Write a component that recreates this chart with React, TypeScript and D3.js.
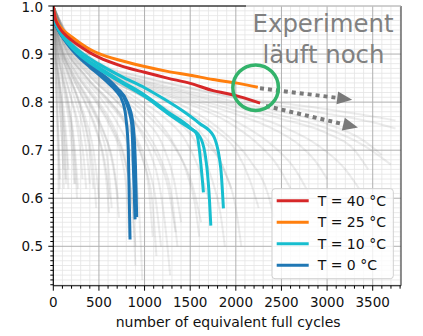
import React from "react";
import * as d3 from "d3";

type P = [number, number];

const xTicks = [0, 500, 1000, 1500, 2000, 2500, 3000, 3500];
const yTicks = [0.5, 0.6, 0.7, 0.8, 0.9, 1.0];
const xDomain: P = [0, 3810];
const yDomain: P = [0.418, 1.0];

const red40: P[] = [[0,1],[20,0.975],[60,0.957],[120,0.942],[200,0.929],[300,0.915],[400,0.903],[500,0.893],[750,0.875],[1000,0.862],[1250,0.85],[1500,0.839],[1750,0.824],[1900,0.818],[2050,0.811],[2266,0.798]];
const orange25: P[] = [[0,1],[20,0.978],[60,0.961],[120,0.948],[200,0.936],[300,0.922],[400,0.91],[500,0.901],[750,0.886],[1000,0.874],[1250,0.864],[1500,0.856],[1750,0.847],[2000,0.84],[2241,0.831]];
const cyan10a: P[] = [[0,1],[20,0.97],[60,0.951],[120,0.934],[200,0.916],[300,0.898],[500,0.872],[750,0.843],[1000,0.815],[1250,0.78],[1500,0.747],[1572,0.733],[1645,0.612]];
const cyan10b: P[] = [[0,1],[20,0.97],[60,0.95],[120,0.932],[200,0.914],[300,0.896],[500,0.869],[750,0.84],[1000,0.812],[1250,0.777],[1500,0.745],[1580,0.735],[1650,0.705],[1711,0.597],[1726,0.543]];
const cyan10c: P[] = [[0,1],[20,0.972],[60,0.953],[120,0.937],[200,0.92],[300,0.904],[500,0.879],[750,0.853],[1000,0.83],[1200,0.808],[1400,0.784],[1600,0.756],[1754,0.73],[1835,0.662],[1864,0.579]];
const blue0a: P[] = [[0,1],[20,0.968],[60,0.948],[120,0.93],[200,0.91],[300,0.89],[400,0.873],[500,0.857],[600,0.84],[680,0.825],[765,0.798],[800,0.76],[822,0.7],[841,0.514]];
const blue0b: P[] = [[0,1],[20,0.968],[60,0.949],[120,0.932],[200,0.912],[300,0.893],[400,0.877],[500,0.861],[600,0.845],[700,0.826],[790,0.803],[860,0.753],[877,0.666],[896,0.556]];
const blue0c: P[] = [[0,1],[20,0.969],[60,0.95],[120,0.933],[200,0.914],[300,0.895],[400,0.879],[500,0.863],[600,0.848],[700,0.829],[810,0.8],[870,0.76],[900,0.67],[914,0.561]];

const greyRuns: P[][] = [
  [[0,1],[15,0.9],[40,0.8],[60,0.71],[72,0.64]],
  [[0,1],[22,0.9],[55,0.82],[85,0.75],[105,0.68],[115,0.62]],
  [[0,1],[30,0.91],[75,0.84],[115,0.78],[145,0.72],[165,0.66]],
  [[0,1],[35,0.92],[90,0.86],[150,0.8],[200,0.74],[225,0.68],[240,0.63]],
  [[0,1],[40,0.925],[110,0.865],[190,0.81],[260,0.75],[300,0.69],[320,0.64]],
  [[0,1],[45,0.93],[130,0.87],[230,0.81],[320,0.75],[370,0.69],[400,0.63]],
  [[0,1],[50,0.932],[150,0.87],[270,0.81],[370,0.755],[440,0.7],[480,0.64],[500,0.6]],
  [[0,1],[55,0.935],[180,0.865],[330,0.805],[450,0.75],[540,0.69],[590,0.62],[610,0.57]],
  [[0,1],[60,0.935],[200,0.865],[380,0.805],[520,0.75],[630,0.69],[690,0.62],[720,0.56]],
  [[0,1],[70,0.936],[250,0.86],[450,0.805],[620,0.75],[740,0.69],[800,0.62],[830,0.52]],
  [[0,1],[80,0.938],[300,0.86],[550,0.8],[720,0.75],[850,0.69],[930,0.6],[960,0.5],[975,0.43]],
  [[0,1],[80,0.94],[350,0.855],[600,0.805],[800,0.755],[950,0.7],[1040,0.63],[1090,0.52]],
  [[0,1],[90,0.94],[400,0.855],[700,0.8],[900,0.755],[1050,0.7],[1160,0.63],[1240,0.52],[1280,0.44]],
  [[0,1],[100,0.942],[450,0.855],[750,0.81],[1000,0.765],[1200,0.71],[1320,0.64],[1400,0.55]],
  [[0,1],[100,0.944],[500,0.855],[800,0.815],[1100,0.77],[1300,0.72],[1450,0.66],[1550,0.59],[1600,0.52]],
  [[0,1],[100,0.946],[500,0.858],[900,0.81],[1200,0.77],[1450,0.72],[1600,0.66],[1700,0.6]],
  [[0,1],[100,0.948],[500,0.862],[900,0.82],[1300,0.78],[1600,0.74],[1800,0.69],[1950,0.62]],
  [[0,1],[100,0.95],[500,0.865],[1000,0.822],[1400,0.785],[1750,0.745],[2000,0.7],[2150,0.64],[2250,0.58]],
  [[0,1],[100,0.952],[500,0.868],[1000,0.83],[1500,0.795],[1900,0.76],[2200,0.72],[2450,0.67],[2600,0.62]],
  [[0,1],[100,0.958],[500,0.878],[1000,0.845],[1500,0.822],[2000,0.8],[2500,0.78],[3000,0.755],[3400,0.72],[3600,0.69]],
  [[0,1],[100,0.956],[500,0.875],[1000,0.84],[1500,0.815],[2000,0.79],[2500,0.765],[3000,0.735],[3300,0.7],[3450,0.66]],
  [[0,1],[100,0.958],[500,0.88],[1000,0.85],[1500,0.828],[2000,0.808],[2500,0.792],[3000,0.776],[3500,0.758],[3750,0.745]],
  [[0,1],[100,0.96],[500,0.882],[1000,0.852],[1500,0.83],[2000,0.81],[2500,0.798],[3000,0.785],[3500,0.77],[3750,0.762]],
  [[0,1],[100,0.955],[500,0.872],[1000,0.835],[1500,0.805],[2000,0.775],[2400,0.745],[2700,0.71],[2900,0.67],[3000,0.64]],
  [[0,1],[10,0.93],[28,0.84],[42,0.75],[52,0.68],[58,0.61]],
  [[0,1],[20,0.92],[60,0.845],[95,0.78],[120,0.71],[135,0.64]],
  [[0,1],[30,0.925],[100,0.855],[170,0.79],[220,0.72],[250,0.64],[260,0.6]],
  [[0,1],[45,0.93],[150,0.865],[280,0.8],[380,0.73],[440,0.66],[470,0.58]],
  [[0,1],[55,0.934],[200,0.862],[380,0.8],[520,0.74],[600,0.67],[640,0.58]],
  [[0,1],[65,0.936],[250,0.86],[480,0.8],[650,0.745],[780,0.68],[860,0.6],[900,0.5]],
  [[0,1],[80,0.94],[330,0.858],[600,0.8],[820,0.745],[980,0.68],[1080,0.6],[1130,0.48]],
  [[0,1],[90,0.942],[380,0.858],[680,0.805],[930,0.75],[1130,0.69],[1260,0.62],[1340,0.53]],
  [[0,1],[100,0.945],[450,0.86],[800,0.81],[1100,0.76],[1350,0.7],[1520,0.63],[1620,0.55]],
  [[0,1],[100,0.947],[500,0.862],[950,0.815],[1350,0.77],[1650,0.72],[1870,0.66],[2000,0.58],[2060,0.5]],
  [[0,1],[100,0.95],[500,0.866],[1000,0.825],[1500,0.785],[1850,0.74],[2150,0.68],[2350,0.61],[2420,0.56]],
  [[0,1],[100,0.952],[500,0.87],[1000,0.832],[1500,0.8],[2000,0.76],[2400,0.71],[2650,0.66],[2800,0.61]],
  [[0,1],[100,0.954],[500,0.874],[1000,0.838],[1500,0.81],[2000,0.782],[2500,0.75],[2900,0.71],[3200,0.66],[3350,0.62]],
  [[0,1],[100,0.957],[500,0.877],[1000,0.843],[1500,0.818],[2000,0.795],[2500,0.772],[3000,0.745],[3400,0.71],[3700,0.67]],
  [[0,1],[18,0.915],[50,0.84],[80,0.77],[100,0.71],[112,0.66]],
  [[0,1],[40,0.928],[120,0.862],[210,0.8],[290,0.74],[335,0.68],[360,0.62]],
  [[0,1],[60,0.935],[230,0.858],[420,0.795],[560,0.735],[660,0.67],[710,0.6]],
  [[0,1],[85,0.94],[350,0.856],[650,0.795],[870,0.74],[1020,0.675],[1120,0.6],[1180,0.5]],
  [[0,1],[12,0.92],[35,0.83],[52,0.74],[64,0.67],[70,0.62]],
  [[0,1],[25,0.915],[65,0.84],[100,0.77],[125,0.7],[140,0.63]],
  [[0,1],[35,0.925],[100,0.86],[165,0.8],[215,0.74],[250,0.67],[270,0.62]],
  [[0,1],[50,0.93],[150,0.868],[260,0.81],[350,0.75],[410,0.68],[440,0.62]],
  [[0,1],[60,0.933],[190,0.862],[350,0.8],[480,0.74],[570,0.67],[620,0.6]],
  [[0,1],[75,0.937],[280,0.858],[500,0.8],[680,0.74],[800,0.67],[870,0.58],[900,0.46]],
  [[0,1],[95,0.943],[420,0.856],[750,0.8],[1000,0.745],[1180,0.68],[1300,0.6],[1360,0.5]],
  [[0,1],[100,0.949],[500,0.863],[950,0.815],[1300,0.77],[1550,0.72],[1720,0.65],[1830,0.57],[1880,0.5]],
  [[0,1],[30,0.9],[80,0.82],[120,0.75],[150,0.68],[165,0.62]],
  [[0,1],[40,0.91],[110,0.83],[170,0.76],[210,0.69],[230,0.63]],
];

const legendLabels = ["T = 40 °C", "T = 25 °C", "T = 10 °C", "T = 0 °C"];
const legendColors = ["#d62728", "#ff7f0e", "#17becf", "#1f77b4"];

const arrowOrange: P[] = [[2265, 0.829], [3275, 0.805]];
const arrowRed: P[] = [[2330, 0.792], [3338, 0.747]];
const circleCenter: P = [2217, 0.83];
const noteLines = ["Experiment", "läuft noch"];

const W = 423, H = 336;
const L = 53.3, R = 401, T = 6, B = 285.7;

export default function App() {
  const x = d3.scaleLinear().domain(xDomain).range([L, R]);
  const y = d3.scaleLinear().domain(yDomain).range([B, T]);
  const line = d3.line<P>().x(d => x(d[0])).y(d => y(d[1])).curve(d3.curveMonotoneX);

  const xMinor = d3.range(0, 3801, 100).filter(v => v % 500 !== 0);
  const yMinor = d3.range(42, 101, 1).map(v => v / 100).filter(v => Math.round(v * 100) % 10 !== 0);

  const font = "DejaVu Sans, sans-serif";

  const arrow = (pts: P[], key: string) => {
    const x0 = x(pts[0][0]), y0 = y(pts[0][1]);
    const x1 = x(pts[1][0]), y1 = y(pts[1][1]);
    const ang = Math.atan2(y1 - y0, x1 - x0);
    const hl = 15, hw = 6.5;
    const bx = x1 - hl * Math.cos(ang), by = y1 - hl * Math.sin(ang);
    const px = -Math.sin(ang), py = Math.cos(ang);
    return (
      <g key={key}>
        <line x1={x0} y1={y0} x2={bx} y2={by} stroke="#7a7a7a" strokeWidth={4} strokeDasharray="4,4" />
        <polygon points={`${x1},${y1} ${bx + px * hw},${by + py * hw} ${bx - px * hw},${by - py * hw}`} fill="#7a7a7a" />
      </g>
    );
  };

  const series: [P[], string][] = [
    [blue0a, legendColors[3]], [blue0b, legendColors[3]], [blue0c, legendColors[3]],
    [cyan10a, legendColors[2]], [cyan10b, legendColors[2]], [cyan10c, legendColors[2]],
    [orange25, legendColors[1]], [red40, legendColors[0]],
  ];

  const clipId = "plotclip";
  const legX = 272, legY = 188.7, legW = 121.3, legH = 90;

  return (
    <svg width={W} height={H} style={{ position: "absolute", left: 0, top: 0, background: "#fff" }} fontFamily={font}>
      <defs>
        <clipPath id={clipId}><rect x={L} y={T} width={R - L} height={B - T} /></clipPath>
      </defs>
      <rect x={0} y={0} width={W} height={H} fill="#fff" />
      <g stroke="#e4e4e4" strokeWidth={0.8}>
        {xMinor.map(v => <line key={"xm" + v} x1={x(v)} x2={x(v)} y1={T} y2={B} />)}
        {yMinor.map(v => <line key={"ym" + v} x1={L} x2={R} y1={y(v)} y2={y(v)} />)}
      </g>
      <g stroke="#b0b0b0" strokeWidth={1}>
        {xTicks.map(v => <line key={"xg" + v} x1={x(v)} x2={x(v)} y1={T} y2={B} />)}
        {yTicks.map(v => <line key={"yg" + v} x1={L} x2={R} y1={y(v)} y2={y(v)} />)}
      </g>
      <g clipPath={`url(#${clipId})`}>
        {greyRuns.map((r, i) => (
          <path key={"g" + i} d={line(r) || ""} fill="none" stroke="#7f7f7f" strokeOpacity={0.15} strokeWidth={2} />
        ))}
        {series.map(([s, c], i) => (
          <path key={"s" + i} d={line(s) || ""} fill="none" stroke={c} strokeWidth={3} strokeLinejoin="round" />
        ))}
      </g>
      {arrow(arrowOrange, "ao")}
      {arrow(arrowRed, "ar")}
      <circle cx={x(circleCenter[0])} cy={y(circleCenter[1])} r={22.8} fill="none" stroke="#33b36b" strokeWidth={3.5} />
      <g fill="#808080" fontSize={24.4} textAnchor="middle">
        <text x={323} y={32}>{noteLines[0]}</text>
        <text x={323.5} y={63.3}>{noteLines[1]}</text>
      </g>
      <g stroke="#000" strokeWidth={1.1} fill="none">
        <line x1={L} x2={L} y1={T} y2={B} />
        <line x1={L} x2={R} y1={B} y2={B} />
        <line x1={R} x2={R} y1={T} y2={B} stroke="#333" />
        <line x1={L} x2={246} y1={T} y2={T} />
        <line x1={246} x2={R} y1={T} y2={T} stroke="#c8c8c8" />
      </g>
      <g stroke="#000" strokeWidth={1}>
        {xTicks.map(v => <line key={"xt" + v} x1={x(v)} x2={x(v)} y1={B} y2={B + 5} />)}
        {xMinor.map(v => <line key={"xmt" + v} x1={x(v)} x2={x(v)} y1={B} y2={B + 3} />)}
        {yTicks.map(v => <line key={"yt" + v} x1={L} x2={L - 5} y1={y(v)} y2={y(v)} />)}
        {yMinor.map(v => <line key={"ymt" + v} x1={L} x2={L - 3} y1={y(v)} y2={y(v)} />)}
      </g>
      <g fontSize={13.5} fill="#111">
        {xTicks.map(v => <text key={"xl" + v} x={x(v)} y={307.4} textAnchor="middle">{String(v)}</text>)}
        {yTicks.map(v => <text key={"yl" + v} x={43} y={Math.max(y(v) + 5, 11.5)} textAnchor="end">{v.toFixed(1)}</text>)}
      </g>
      <text x={(L + R) / 2 + 1} y={327} textAnchor="middle" fontSize={14} fill="#111">number of equivalent full cycles</text>
      <rect x={legX} y={legY} width={legW} height={legH} rx={3} fill="#fff" fillOpacity={0.8} stroke="#d0d0d0" strokeWidth={1} />
      {legendLabels.map((lab, i) => (
        <g key={"lg" + i}>
          <line x1={276.7} x2={308.7} y1={200.7 + i * 21.5} y2={200.7 + i * 21.5} stroke={legendColors[i]} strokeWidth={3} />
          <text x={317.7} y={200.7 + i * 21.5 + 5} fontSize={14} fill="#111">{lab}</text>
        </g>
      ))}
    </svg>
  );
}
